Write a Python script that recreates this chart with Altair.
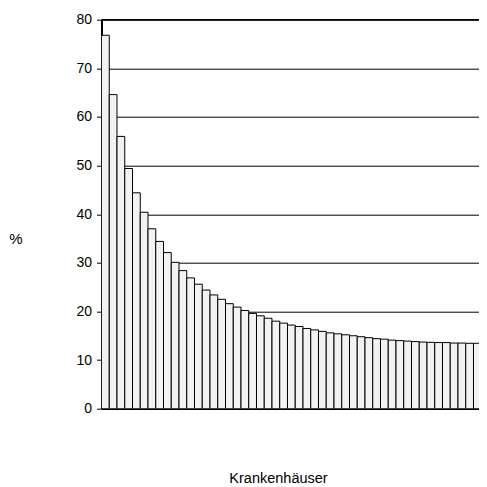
import altair as alt
import pandas as pd

values = [76.8, 64.6, 56.0, 49.4, 44.4, 40.4, 37.0, 34.4, 32.1, 30.1,
          28.4, 26.9, 25.6, 24.4, 23.4, 22.5, 21.6, 20.9, 20.2, 19.6,
          19.1, 18.6, 18.0, 17.6, 17.2, 16.9, 16.5, 16.2, 15.9, 15.6,
          15.4, 15.2, 15.0, 14.8, 14.6, 14.4, 14.3, 14.1, 14.0, 13.9,
          13.8, 13.7, 13.65, 13.6, 13.6, 13.5, 13.5, 13.45, 13.45, 13.4]
hospitals = list(range(1, len(values) + 1))
y_ticks = [0, 10, 20, 30, 40, 50, 60, 70, 80]

df = pd.DataFrame({"h": hospitals, "v": values})

FONT = "Liberation Sans"
PLOT_W = 377.5
BAR_W = 7.75
x_scale = alt.Scale(domain=[0.5, 0.5 + PLOT_W / BAR_W], nice=False, zero=False, padding=0)
y_scale = alt.Scale(domain=[0, 80], nice=False, padding=0)

bars = alt.Chart(df).transform_calculate(
    h0="datum.h - 0.5", h1="datum.h + 0.5"
).mark_bar(fill="#f2f2f2", stroke="black", strokeWidth=1, clip=True).encode(
    x=alt.X("h0:Q", scale=x_scale,
            axis=alt.Axis(labels=False, ticks=False, grid=False, title="Krankenhäuser",
                          domainColor="black", domainWidth=1.5,
                          titleFont=FONT, titleFontSize=14.5, titleFontWeight="normal",
                          titleColor="black", titleX=176.5, titleY=74,
                          titleBaseline="alphabetic", titleAlign="center")),
    x2="h1:Q",
    y=alt.Y("v:Q", scale=y_scale,
            axis=alt.Axis(values=y_ticks, title="%", titleAngle=0,
                          titleX=-86, titleY=219, titleAlign="center",
                          titleBaseline="middle", titleFont=FONT, titleFontSize=15,
                          titleFontWeight="normal", titleColor="black",
                          labelFont=FONT, labelFontSize=14, labelColor="black",
                          labelPadding=5, tickSize=5, tickColor="black",
                          domainColor="black", domainWidth=2,
                          grid=True, gridColor="black", gridWidth=1)),
    y2=alt.datum(0),
)

top = alt.Chart(pd.DataFrame({"y": [80]})).mark_rule(color="black", strokeWidth=1.5).encode(
    y=alt.Y("y:Q", scale=y_scale)
)

chart = alt.layer(bars, top).properties(
    width=PLOT_W, height=389,
    autosize=alt.AutoSizeParams(type="none"),
    padding={"left": 93.5, "top": 11.7, "right": 0, "bottom": 78},
).configure_view(stroke=None)

chart.save("out.html", embed_options={"renderer": "svg", "actions": False})
